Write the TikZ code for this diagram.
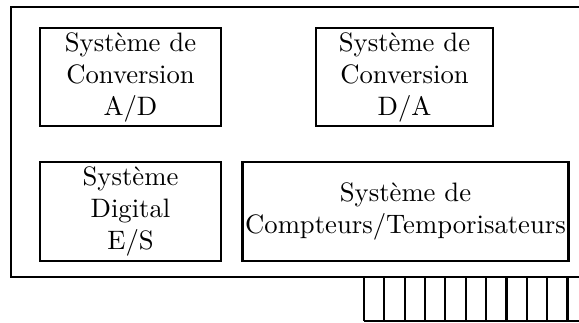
\documentclass[tikz,border=0pt]{standalone}
\usetikzlibrary{positioning}

\begin{document}
\begin{tikzpicture}[x=0.375pt,y=-0.375pt,
    bloc/.style={draw, thick, align=center, inner sep=1pt, minimum height=37pt}]

    % Fix the frame of the picture
    \clip (0,0) rectangle (579,323);

    % Draw the board
    \draw[thick] (11,7) rectangle (600,277);

    % Define the blocks on the board
    \node[bloc, minimum width=67.9pt] (ad) at (130.5,77)
        {Système de\\Conversion\\A/D};
    \node[bloc, minimum width=66.4pt] (da) at (404.5,77)
        {Système de\\Conversion\\D/A};
    \node[bloc, minimum width=67.9pt] (es) at (130.5,211.5)
        {Système\\Digital\\E/S};
    \node[bloc, minimum width=120.4pt] (ct) at (405.5,211.5)
        {Système de\\Compteurs/Temporisateurs};

    % Draw the edge connector below the board
    \coordinate (C1) at (364,277);
    \coordinate (C2) at (364,321);
    \coordinate (C3) at (600,321);
    \draw[thick] (C2) -- (C3);
    \foreach \i in {0,...,10}
        \draw[thick] ([xshift=\i*20.35*0.375pt]C1) -- ([xshift=\i*20.35*0.375pt]C2);

\end{tikzpicture}
\end{document}
